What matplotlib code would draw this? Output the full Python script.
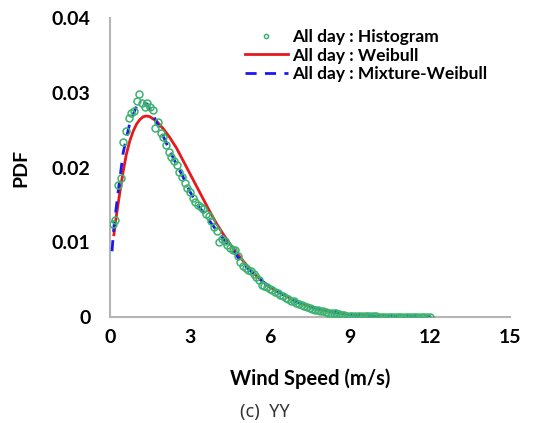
import numpy as np
import matplotlib
matplotlib.use("Agg")
import matplotlib.pyplot as plt

# Histogram (bin centers every 0.1 m/s)
hist_x = np.round(np.arange(0.1, 12.05, 0.1), 1)
hist_y = [
    0.0124, 0.0130, 0.0176, 0.0186, 0.0234, 0.0249, 0.0266, 0.0273, 0.0276, 0.0289,
    0.0299, 0.0286, 0.0281, 0.0286, 0.0281, 0.0277, 0.0253, 0.0261, 0.0246, 0.0241,
    0.0230, 0.0221, 0.0214, 0.0209, 0.0204, 0.0194, 0.0187, 0.0179, 0.0173, 0.0167,
    0.0159, 0.0154, 0.0150, 0.0147, 0.0144, 0.0138, 0.0135, 0.0128, 0.0121, 0.0115,
    0.0101, 0.0105, 0.0102, 0.0097, 0.0092, 0.0090, 0.0089, 0.0081, 0.0074, 0.0068,
    0.0066, 0.0063, 0.0061, 0.0058, 0.0054, 0.0050, 0.0043, 0.0041, 0.0040, 0.0038,
    0.0036, 0.0034, 0.0032, 0.0030, 0.0028, 0.0026, 0.0024, 0.0022, 0.0021, 0.0019,
    0.0018, 0.0016, 0.0015, 0.0014, 0.0012, 0.0011, 0.0010, 0.0009, 0.0008, 0.0008,
    0.0007, 0.0006, 0.0006, 0.0005, 0.0005, 0.0004, 0.0003, 0.0003, 0.0002, 0.0002,
    0.0002, 0.0002, 0.00015, 0.00012, 0.0001, 0.0001, 0.0001, 0.00008, 0.00008, 0.00007,
    0.00006, 0.00006, 0.00005, 0.00005, 0.00004, 0.00004, 0.00003, 0.00003, 0.00003, 0.00002,
    0.00002, 0.00002, 0.00002, 0.00001, 0.00001, 0.00001, 0.00001, 0.00001, 0.0, 0.0,
]

# Weibull fit (red)
weib_x = [0.15, 0.25, 0.37, 0.5, 0.62, 0.75, 0.88, 1.0, 1.12, 1.25, 1.38, 1.5, 1.75, 2.0,
          2.25, 2.5, 2.75, 3.0, 3.25, 3.5, 3.75, 4.0, 4.25, 4.5, 4.75, 5.0, 5.25, 5.5,
          5.75, 6.0, 6.5, 7.0, 7.5, 8.0, 8.5, 9.0, 10.0, 11.0, 12.0]
weib_y = [0.0110, 0.0137, 0.0166, 0.0195, 0.0218, 0.0236, 0.0249, 0.0258, 0.0264, 0.0268,
          0.0269, 0.0268, 0.0262, 0.0252, 0.0240, 0.0226, 0.0209, 0.0192, 0.0175, 0.0158,
          0.0141, 0.0125, 0.0111, 0.0098, 0.0086, 0.0075, 0.0064, 0.0055, 0.0047, 0.0040,
          0.0030, 0.0021, 0.0014, 0.0009, 0.0006, 0.0003, 0.0001, 0.00003, 0.0]

# Mixture-Weibull fit (blue dashed)
mix_x = [0.08, 0.15, 0.3, 0.5, 0.75, 1.0, 1.2, 1.4, 1.6, 1.8, 2.0, 2.25, 2.5, 2.75, 3.0,
         3.25, 3.5, 3.75, 4.0, 4.5, 5.0, 5.5, 6.0, 7.0, 8.0, 9.0, 10.0, 12.0]
mix_y = [0.0088, 0.0120, 0.0165, 0.0220, 0.0260, 0.0282, 0.0287, 0.0285, 0.0272, 0.0257,
         0.0242, 0.0222, 0.0204, 0.0187, 0.0168, 0.0152, 0.0140, 0.0128, 0.0116, 0.0094,
         0.0071, 0.0054, 0.0040, 0.0020, 0.0009, 0.0003, 0.0001, 0.0]

x_ticks = [0, 3, 6, 9, 12, 15]
y_ticks = [0, 0.01, 0.02, 0.03, 0.04]
y_tick_labels = ["0", "0.01", "0.02", "0.03", "0.04"]

FONT = "Lato"

fig = plt.figure(figsize=(5.36, 4.23), dpi=100)
ax = fig.add_axes([0.205, 0.2506, 0.746, 0.7067])

ax.plot(weib_x, weib_y, color="#e41a1c", lw=2, label="All day : Weibull", zorder=2)
ax.plot(mix_x, mix_y, color="#1a1aee", lw=2, dashes=(4, 3), label="All day : Mixture-Weibull", zorder=3)
ax.plot(hist_x, hist_y, ls="none", marker="o", markersize=5, markerfacecolor="none",
        markeredgecolor="#3cb371", markeredgewidth=1.1, label="All day : Histogram", zorder=4)

ax.set_xlim(0, 15)
ax.set_ylim(0, 0.04)
ax.set_xticks(x_ticks)
ax.set_xticklabels([str(t) for t in x_ticks])
ax.set_yticks(y_ticks)
ax.set_yticklabels(y_tick_labels)
ax.tick_params(length=0, labelsize=14, pad=0)
ax.tick_params(axis="y", pad=14)
ax.tick_params(axis="x", pad=9)
for lbl in ax.get_xticklabels() + ax.get_yticklabels():
    lbl.set_fontfamily(FONT)
    lbl.set_fontweight("bold")
for s in ["top", "right"]:
    ax.spines[s].set_visible(False)
for s in ["left", "bottom"]:
    ax.spines[s].set_color("#b5b5b5")
    ax.spines[s].set_linewidth(1.5)

ax.set_ylabel("PDF", fontsize=14, fontweight="bold", family=FONT, labelpad=16)
ax.set_xlabel("Wind Speed (m/s)", fontsize=14.5, fontweight="bold", family=FONT, labelpad=16)

handles, labels = ax.get_legend_handles_labels()
order = [2, 0, 1]
leg = ax.legend([handles[i] for i in order], [labels[i] for i in order],
                loc="upper left", bbox_to_anchor=(0.32, 0.985), frameon=False,
                prop={"family": FONT, "weight": "bold", "size": 12.5},
                handlelength=2.5, handletextpad=0.25, labelspacing=0.12,
                borderaxespad=0, markerscale=0.6)

fig.text(0.495, 0.026, "(c)  YY", ha="center", va="center", fontsize=13,
         family="Noto Sans", color="#333333")

fig.savefig("out.png", dpi=100)
